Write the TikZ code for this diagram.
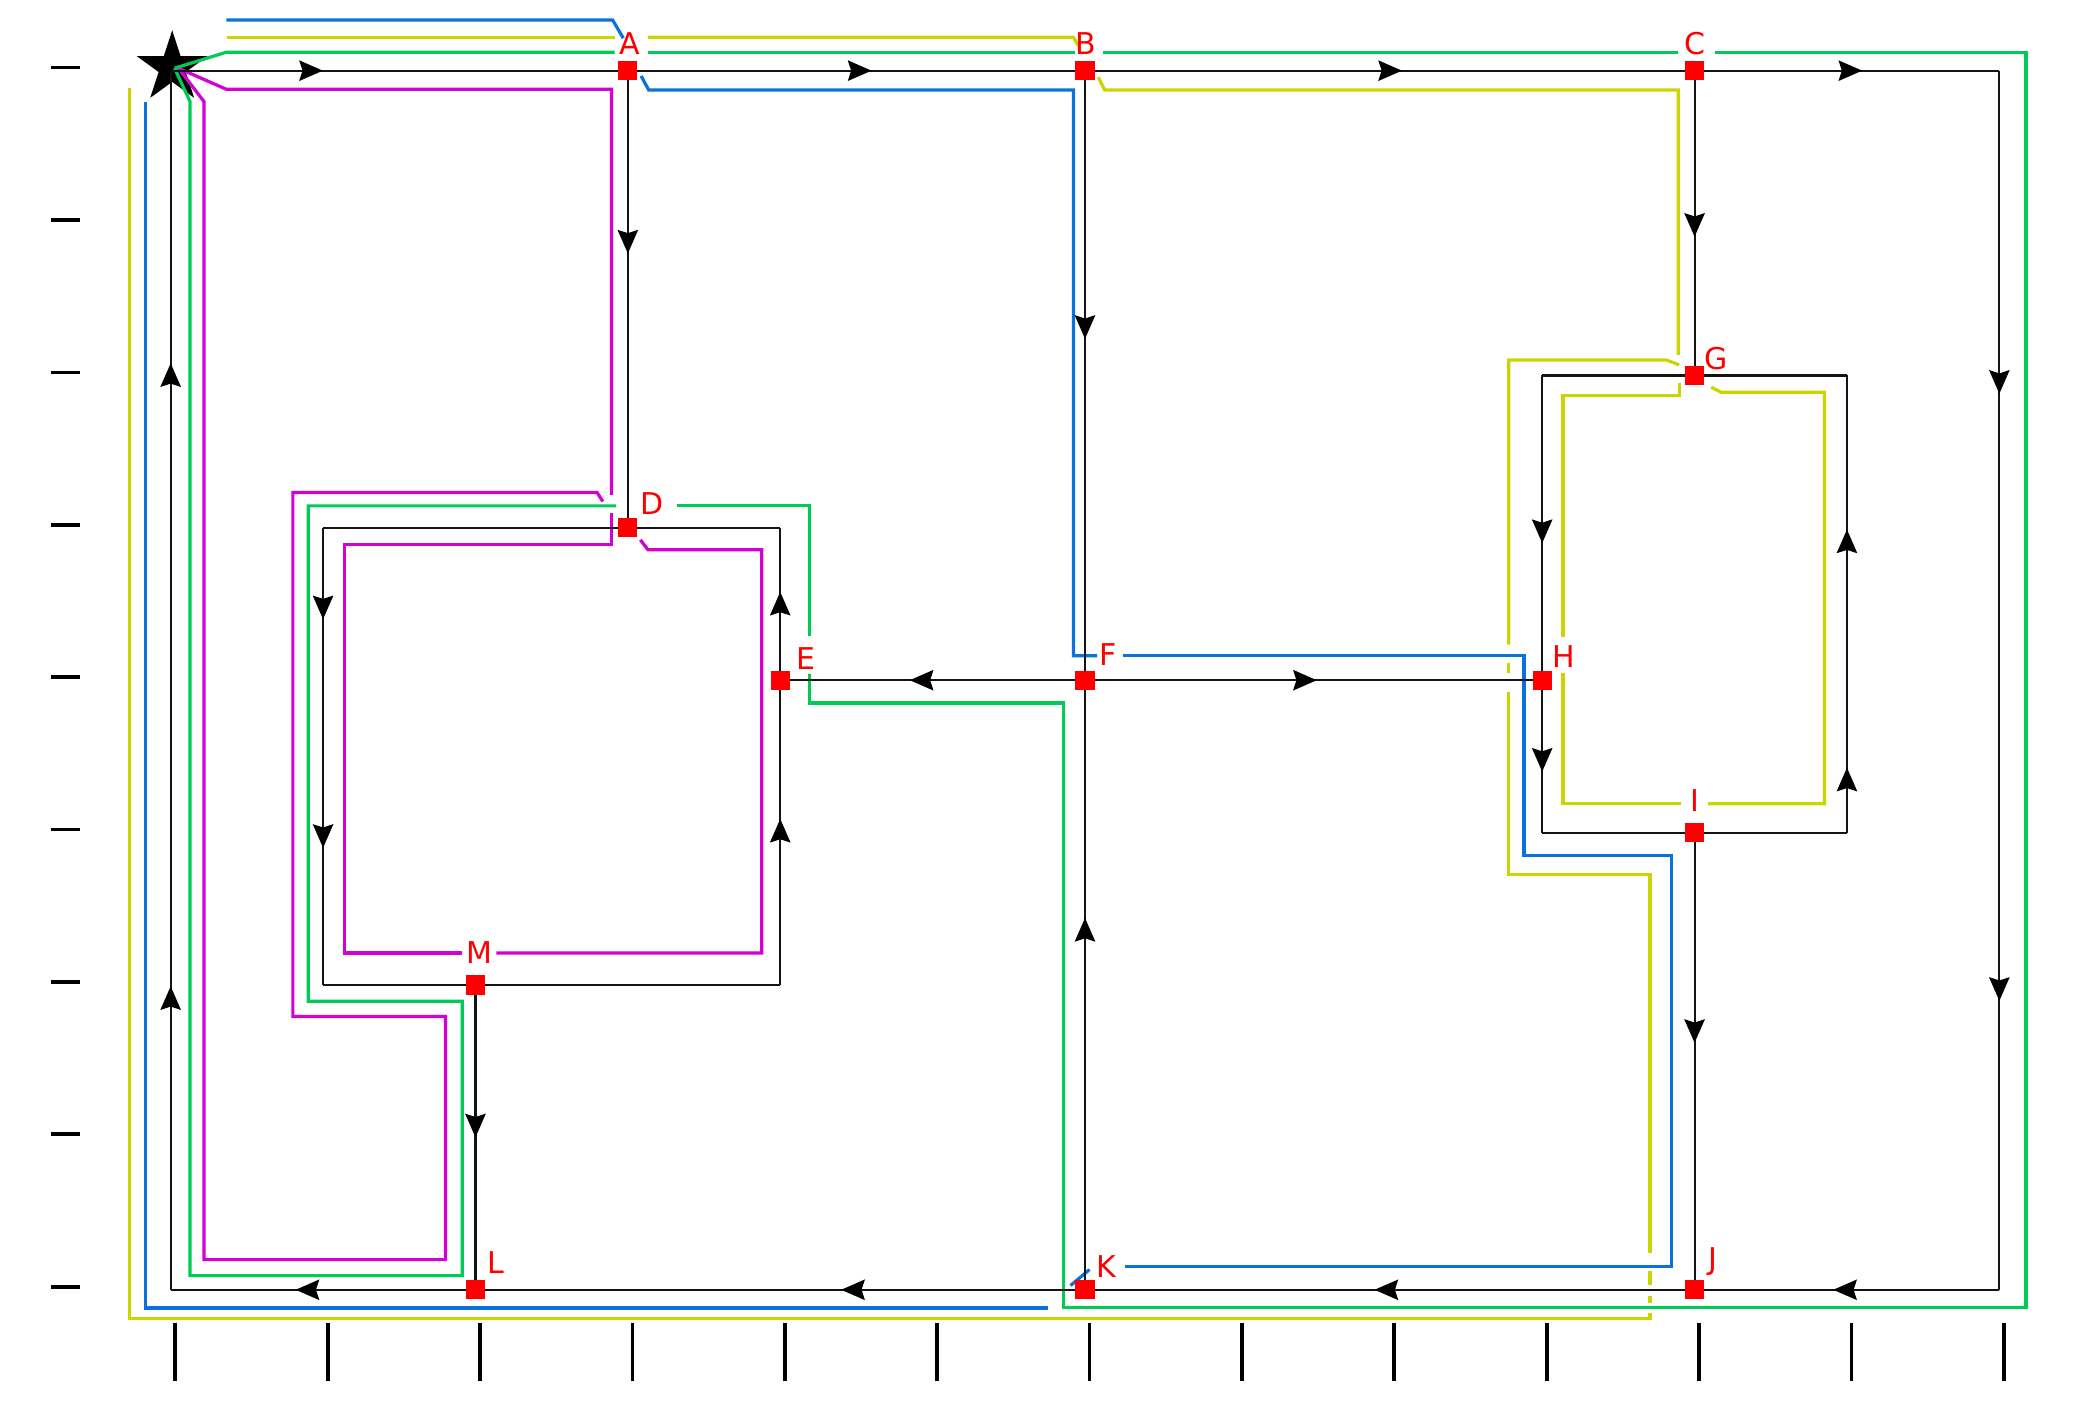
\documentclass[tikz,border=0pt]{standalone}
\usepackage{fontspec}
\setmainfont{DejaVu Sans}
\usetikzlibrary{shapes.geometric, arrows.meta, decorations.markings, backgrounds}
\definecolor{cRouteB}{HTML}{0A72D8}
\definecolor{cRouteY}{HTML}{CBD600}
\definecolor{cRouteG}{HTML}{00CC55}
\definecolor{cRouteM}{HTML}{D400D4}
\definecolor{cStop}{HTML}{FF0000}
\definecolor{cEdge}{HTML}{141414}

\begin{document}
\begin{tikzpicture}[x=1cm, y=-1cm,
  every node/.style={font=\fontsize{5.6}{6.7}\selectfont},
  stop/.style={fill=cStop, minimum size=0.125cm, inner sep=0pt, outer sep=0pt},
  lbl/.style={text=cStop, inner sep=0pt},
  edge/.style={draw=cEdge, line width=0.4pt},
  tipat/.style={postaction={decorate}, decoration={markings,
    mark=at position #1 with {\arrow{Stealth[length=4.4pt,width=3.8pt,inset=0.6pt,black]}}}},
  tiptwo/.style 2 args={postaction={decorate}, decoration={markings,
    mark=at position #1 with {\arrow{Stealth[length=4.4pt,width=3.8pt,inset=0.6pt,black]}},
    mark=at position #2 with {\arrow{Stealth[length=4.4pt,width=3.8pt,inset=0.6pt,black]}}}},
  route/.style={line width=0.6pt, line join=miter},
  tickmark/.style={line width=0.7pt, draw=black}
]
\useasboundingbox (-1.12,-0.4636) rectangle (12.595,8.729);

% Stops
\node[stop] (A) at (3,0) {};
\node[stop] (B) at (6,0) {};
\node[stop] (C) at (10,0) {};
\node[stop] (D) at (3,3) {};
\node[stop] (E) at (4,4) {};
\node[stop] (F) at (6,4) {};
\node[stop] (G) at (10,2) {};
\node[stop] (H) at (9,4) {};
\node[stop] (I) at (10,5) {};
\node[stop] (J) at (10,8) {};
\node[stop] (K) at (6,8) {};
\node[stop] (L) at (2,8) {};
\node[stop] (M) at (2,6) {};

% Corners of the loops
\coordinate (NW) at (0,0);
\coordinate (NE) at (12,0);
\coordinate (SE) at (12,8);
\coordinate (SW) at (0,8);
\coordinate (GNW) at (9,2);
\coordinate (GNE) at (11,2);
\coordinate (GSW) at (9,5);
\coordinate (GSE) at (11,5);
\coordinate (DNW) at (1,3);
\coordinate (DNE) at (4,3);
\coordinate (DSW) at (1,6);
\coordinate (DSE) at (4,6);

\begin{scope}[on background layer]
% Depot
\node[star, star points=5, star point ratio=2.618, fill=black, minimum size=0.49cm, inner sep=0pt] (depot) at (0.01,-0.02) {};

% Yellow route
\draw[route, cRouteY] (0.369,-0.219) -- (2.913,-0.219);
\draw[route, cRouteY] (3.131,-0.219) -- (5.924,-0.219) -- (5.961,-0.157);
\draw[route, cRouteY] (6.087,0.043) -- (6.129,0.127) -- (9.893,0.127) -- (9.893,1.865);
\draw[route, cRouteY] (9.9,2.051) -- (9.9,2.133) -- (9.136,2.133) -- (9.136,3.717);
\draw[route, cRouteY] (9.136,3.953) -- (9.136,4.81) -- (9.908,4.81);
\draw[route, cRouteY] (10.089,4.81) -- (10.852,4.81) -- (10.852,2.110) -- (10.174,2.110) -- (10.109,2.077);
\draw[route, cRouteY] (9.899,1.931) -- (9.814,1.898) -- (8.78,1.898) -- (8.78,3.767);
\draw[route, cRouteY] (8.78,3.887) -- (8.78,3.953);
\draw[route, cRouteY] (8.78,4.074) -- (8.78,5.276) -- (9.707,5.276) -- (9.707,7.758);
\draw[route, cRouteY] (9.707,7.878) -- (9.707,7.97);
\draw[route, cRouteY] (9.707,8.04) -- (9.707,8.09);
\draw[route, cRouteY] (9.707,8.15) -- (9.707,8.191) -- (-0.27,8.191) -- (-0.27,0.112);

% Magenta route
\draw[route, cRouteM] (0.051,-0.016) -- (0.365,0.122) -- (2.893,0.122) -- (2.893,2.783);
\draw[route, cRouteM] (2.836,2.827) -- (2.798,2.768) -- (0.802,2.768) -- (0.802,6.206) -- (1.804,6.206)
  -- (1.804,7.802) -- (0.219,7.802) -- (0.219,0.203) -- (0.051,-0.016);
\draw[route, cRouteM] (2.893,2.904) -- (2.893,3.111) -- (1.141,3.111) -- (1.141,5.79) -- (1.913,5.79);
\draw[route, cRouteM] (2.138,5.79) -- (3.878,5.79) -- (3.878,3.144) -- (3.132,3.144) -- (3.082,3.079);

% Blue route
\draw[route, cRouteB] (0.365,-0.333) -- (2.900,-0.333) -- (2.970,-0.213);
\draw[route, cRouteB] (3.087,0.035) -- (3.137,0.127) -- (5.924,0.127) -- (5.924,3.84) -- (6.079,3.84);
\draw[route, cRouteB] (6.25,3.84) -- (8.881,3.84) -- (8.881,5.152) -- (9.851,5.152) -- (9.851,7.846) -- (6.262,7.846);
\draw[route, cRouteB] (6.03,7.867) -- (5.905,7.972);
\draw[route, cRouteB] (5.754,8.119) -- (-0.167,8.119) -- (-0.167,0.207);

% Green route
\draw[route, cRouteG] (0.026,-0.016) -- (0.365,-0.121) -- (2.913,-0.121);
\draw[route, cRouteG] (3.131,-0.121) -- (5.936,-0.121);
\draw[route, cRouteG] (6.119,-0.121) -- (9.893,-0.121);
\draw[route, cRouteG] (10.131,-0.121) -- (12.175,-0.121) -- (12.175,8.118) -- (5.857,8.118)
  -- (5.857,4.15) -- (4.191,4.15) -- (4.191,3.958);
\draw[route, cRouteG] (4.191,3.713) -- (4.191,2.856) -- (3.325,2.856);
\draw[route, cRouteG] (2.923,2.856) -- (0.903,2.856) -- (0.903,6.107) -- (1.913,6.107)
  -- (1.913,7.907) -- (0.127,7.907) -- (0.127,0.203) -- (0.026,-0.016);

% Outer loop
\draw[edge, tipat=0.333] (NW) -- (A.center);
\draw[edge, tipat=0.533] (A.center) -- (B.center);
\draw[edge, tipat=0.52] (B.center) -- (C.center);
\draw[edge, tipat=0.55] (C.center) -- (NE);
\draw[edge, tiptwo={0.265}{0.763}] (NE) -- (SE);
\draw[edge, tipat=0.545] (SE) -- (J.center);
\draw[edge, tipat=0.525] (J.center) -- (K.center);
\draw[edge, tipat=0.4] (K.center) -- (L.center);
\draw[edge, tipat=0.59] (L.center) -- (SW);
\draw[edge, tiptwo={0.249}{0.76}] (SW) -- (NW);

% Inner links
\draw[edge, tipat=0.4] (A.center) -- (D.center);
\draw[edge, tipat=0.44] (B.center) -- (F.center);
\draw[edge, tipat=0.61] (K.center) -- (F.center);
\draw[edge, tipat=0.575] (F.center) -- (E.center);
\draw[edge, tipat=0.507] (F.center) -- (H.center);
\draw[edge, tipat=0.545] (C.center) -- (G.center);
\draw[edge, tipat=0.46] (I.center) -- (J.center);
\draw[edge, tipat=0.5] (M.center) -- (L.center);

% G loop
\draw[edge] (G.center) -- (GNW);
\draw[edge, tipat=0.55] (GNW) -- (H.center);
\draw[edge, tipat=0.6] (H.center) -- (GSW);
\draw[edge] (GSW) -- (I.center) -- (GSE);
\draw[edge, tiptwo={0.142}{0.663}] (GSE) -- (GNE);
\draw[edge] (GNE) -- (G.center);

% D loop
\draw[edge] (D.center) -- (DNW);
\draw[edge, tiptwo={0.2}{0.7}] (DNW) -- (DSW);
\draw[edge] (DSW) -- (M.center) -- (DSE);
\draw[edge, tipat=0.545] (DSE) -- (E.center);
\draw[edge, tipat=0.58] (E.center) -- (DNE);
\draw[edge] (DNE) -- (D.center);
\end{scope}

% Stop labels
\node[lbl] (lA) at (3.01,-0.18) {A};
\node[lbl] (lB) at (6.004,-0.18) {B};
\node[lbl] (lC) at (10.003,-0.18) {C};
\node[lbl] (lD) at (3.162,2.838) {D};
\node[lbl] (lE) at (4.166,3.855) {E};
\node[lbl] (lF) at (6.153,3.833) {F};
\node[lbl] (lG) at (10.143,1.887) {G};
\node[lbl] (lH) at (9.139,3.848) {H};
\node[lbl] (lI) at (10.003,4.79) {I};
\node[lbl] (lJ) at (10.12,7.813) {J};
\node[lbl] (lK) at (6.137,7.846) {K};
\node[lbl] (lL) at (2.134,7.823) {L};
\node[lbl] (lM) at (2.024,5.79) {M};

% Axis ticks
\foreach \i in {0,...,12}
  \draw[tickmark] (\i+0.03,8.215) -- (\i+0.03,8.6);
\foreach \j in {0,...,8}
  \draw[tickmark] (-0.787,\j-0.02) -- (-0.595,\j-0.02);
\end{tikzpicture}
\end{document}
